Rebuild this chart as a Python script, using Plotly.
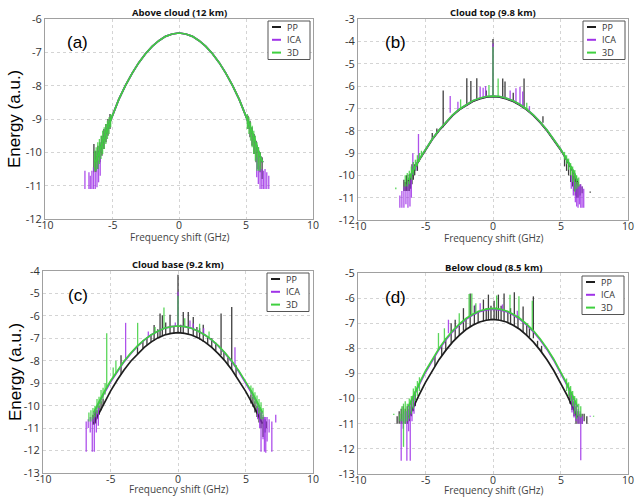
import plotly.graph_objects as go

W, H = 635, 498

# ---------------- data ----------------
FREQ = [-6.25, -6, -5.5, -5, -4.5, -4, -3.5, -3, -2.5, -2, -1.5, -1, -0.5, 0,
        0.5, 1, 1.5, 2, 2.5, 3, 3.5, 4, 4.5, 5, 5.5, 6, 6.25]

SERIES = ["PP", "ICA", "3D"]
COLORS = {"PP": "#1e1e1e", "ICA": "#a033e8", "3D": "#3fd03f"}

TITLES = ["Above cloud (12 km)", "Cloud top (9.8 km)", "Cloud base (9.2 km)", "Below cloud (8.5 km)"]
PANEL_LABELS = ["(a)", "(b)", "(c)", "(d)"]
X_TICKS = [-10, -5, 0, 5, 10]
Y_TICKS_A = [-12, -11, -10, -9, -8, -7, -6]
Y_TICKS_B = [-12, -11, -10, -9, -8, -7, -6, -5, -4, -3]
Y_TICKS_C = [-13, -12, -11, -10, -9, -8, -7, -6, -5, -4]
Y_TICKS_D = [-13, -12, -11, -10, -9, -8, -7, -6, -5]

# smooth spectra (log energy) read at FREQ
base_a = [-10.3, -10.05, -9.45, -8.92, -8.42, -8.0, -7.63, -7.31, -7.04, -6.82, -6.65, -6.52, -6.45, -6.42,
          -6.45, -6.52, -6.65, -6.82, -7.04, -7.31, -7.63, -8.0, -8.42, -8.92, -9.45, -10.05, -10.3]
base_b_pp = [-10.25, -9.9, -9.35, -8.85, -8.4, -8.0, -7.64, -7.33, -7.07, -6.86, -6.69, -6.58, -6.5, -6.48,
             -6.5, -6.58, -6.69, -6.86, -7.07, -7.33, -7.64, -8.0, -8.4, -8.85, -9.35, -9.9, -10.3]
base_b = [-10.2, -9.87, -9.32, -8.82, -8.37, -7.97, -7.61, -7.3, -7.04, -6.83, -6.66, -6.55, -6.47, -6.45,
          -6.47, -6.55, -6.66, -6.83, -7.04, -7.3, -7.61, -7.97, -8.37, -8.82, -9.32, -9.87, -10.25]
base_c_pp = [-10.8, -10.5, -9.9, -9.35, -8.86, -8.41, -8.02, -7.69, -7.4, -7.17, -6.98, -6.85, -6.78, -6.75,
             -6.78, -6.85, -6.98, -7.17, -7.4, -7.69, -8.02, -8.41, -8.86, -9.35, -9.9, -10.5, -10.8]
base_c_ica = [-10.35, -10.05, -9.48, -8.95, -8.48, -8.05, -7.68, -7.35, -7.08, -6.85, -6.68, -6.55, -6.48, -6.45,
              -6.48, -6.55, -6.68, -6.85, -7.08, -7.35, -7.68, -8.05, -8.48, -8.95, -9.48, -10.05, -10.35]
base_c_3d = [-10.3, -10.0, -9.42, -8.9, -8.44, -8.02, -7.66, -7.34, -7.07, -6.85, -6.68, -6.55, -6.48, -6.45,
             -6.48, -6.55, -6.68, -6.85, -7.07, -7.34, -7.66, -8.02, -8.44, -8.9, -9.42, -10.0, -10.3]
base_d_pp = [-10.75, -10.45, -9.88, -9.35, -8.88, -8.45, -8.08, -7.75, -7.48, -7.25, -7.08, -6.95, -6.88, -6.85,
             -6.88, -6.95, -7.08, -7.25, -7.48, -7.75, -8.08, -8.45, -8.88, -9.35, -9.88, -10.45, -10.75]
base_d_ica = [-10.35, -10.05, -9.48, -8.95, -8.47, -8.04, -7.67, -7.34, -7.07, -6.84, -6.67, -6.54, -6.47, -6.44,
              -6.47, -6.54, -6.67, -6.84, -7.07, -7.34, -7.67, -8.04, -8.47, -8.95, -9.48, -10.05, -10.35]
base_d_3d = [-10.3, -10.0, -9.43, -8.9, -8.43, -8.0, -7.63, -7.3, -7.04, -6.81, -6.64, -6.51, -6.44, -6.41,
             -6.44, -6.51, -6.64, -6.81, -7.04, -7.3, -7.63, -8.0, -8.43, -8.9, -9.43, -10.0, -10.3]

# noise spikes: (frequency, low, high)
spk_a_pp = [(-6.35, -10.6, -9.75), (-6.2, -10.6, -9.95), (-6.05, -10.5, -9.8), (-5.9, -10.3, -9.7),
            (-5.75, -10.1, -9.5), (-5.6, -9.9, -9.3), (-5.45, -9.7, -9.15), (-5.3, -9.5, -9.0),
            (-5.15, -9.3, -8.85), (5.15, -9.3, -8.9), (5.3, -9.55, -9.05), (5.45, -9.8, -9.25),
            (5.6, -10.05, -9.45), (5.75, -10.3, -9.65), (5.9, -10.5, -9.85), (6.05, -10.6, -10.0),
            (6.2, -10.8, -10.15)]
spk_a_ica = [(-7.02, -11.1, -10.55), (-6.72, -11.1, -10.6), (-6.62, -11.1, -10.7), (-6.5, -11.1, -10.55),
             (-6.38, -11.1, -10.45), (-6.25, -11.1, -10.6), (-6.12, -11.05, -10.35), (-6.0, -10.9, -10.25),
             (-5.88, -10.7, -10.1), (5.8, -10.75, -10.15), (5.92, -10.95, -10.3), (6.05, -11.1, -10.4),
             (6.18, -11.1, -10.5), (6.3, -11.1, -10.55), (6.42, -11.1, -10.5), (6.55, -11.1, -10.6),
             (6.7, -11.1, -10.7)]
spk_a_3d = [(-6.3, -10.55, -9.95), (-6.18, -10.55, -9.85), (-6.06, -10.5, -9.7), (-5.94, -10.35, -9.6),
            (-5.82, -10.2, -9.5), (-5.7, -10.05, -9.35), (-5.58, -9.9, -9.25), (-5.46, -9.75, -9.15),
            (-5.34, -9.6, -9.05), (-5.22, -9.45, -8.95), (-5.1, -9.25, -8.85), (5.1, -9.3, -8.85),
            (5.22, -9.45, -8.95), (5.34, -9.65, -9.1), (5.46, -9.85, -9.2), (5.58, -10.05, -9.35),
            (5.7, -10.25, -9.5), (5.82, -10.55, -9.7), (5.94, -10.55, -9.85), (6.06, -10.55, -10.0)]

spk_b_pp = [(0, -6.48, -3.9), (-3.69, -7.85, -6.2), (-1.94, -6.85, -5.65), (-1.64, -6.7, -5.78),
            (-1.2, -6.6, -5.65), (-0.5, -6.5, -6.2), (0.72, -6.52, -5.66), (0.89, -6.55, -5.8),
            (1.5, -6.65, -6.3), (2.3, -6.95, -5.66), (3.7, -7.65, -7.35), (-4.5, -8.4, -8.1),
            (-4.16, -8.1, -7.9),
            (-6.6, -10.7, -10.2), (-6.5, -10.7, -10.3), (-6.4, -10.7, -10.0), (-6.3, -10.7, -10.2),
            (-6.2, -10.7, -9.95), (-6.1, -10.6, -10.0), (-6.0, -10.4, -9.5), (-5.9, -10.2, -9.6),
            (-5.8, -10.0, -9.5), (-5.6, -9.8, -9.3),
            (5.3, -9.6, -9.1), (5.45, -9.8, -9.3), (5.6, -10.0, -9.5), (5.75, -10.3, -9.6),
            (5.9, -10.5, -9.8), (6.0, -10.7, -10.0), (6.1, -10.9, -10.1), (6.2, -11.0, -10.2),
            (6.3, -11.0, -10.3), (6.45, -10.9, -10.4), (6.6, -10.8, -10.5), (7.2, -10.78, -10.72)]
spk_b_ica = [(0, -6.45, -4.1), (-3.17, -7.2, -6.45), (-0.95, -6.55, -6.03), (-0.73, -6.5, -6.08),
             (-0.55, -6.48, -6.0), (1.27, -6.6, -6.2), (1.7, -6.75, -6.1), (2.0, -6.83, -6.03),
             (2.2, -6.92, -6.25), (-2.6, -7.1, -6.7), (2.7, -7.2, -6.9),
             (-6.9, -11.45, -10.9), (-6.75, -11.45, -10.7), (-6.6, -11.45, -10.5), (-6.45, -11.3, -10.4),
             (-6.3, -11.45, -10.3), (-6.15, -11.4, -10.2), (-6.05, -11.0, -10.0), (-5.94, -10.0, -9.01),
             (-5.52, -9.4, -8.15), (-5.7, -9.8, -9.4),
             (5.8, -10.6, -10.0), (5.95, -10.9, -10.2), (6.1, -11.2, -10.3), (6.2, -11.4, -10.4),
             (6.3, -11.45, -10.5), (6.4, -11.3, -10.45), (6.5, -11.45, -10.4), (6.6, -11.45, -10.5),
             (6.72, -11.45, -10.6)]
spk_b_3d = [(0, -6.45, -4.25), (0.38, -6.47, -5.66), (-2.4, -7.05, -6.6), (-0.3, -6.47, -5.96),
            (2.5, -7.05, -6.75),
            (-6.5, -10.5, -10.0), (-6.35, -10.5, -9.9), (-6.2, -10.4, -9.8), (-6.05, -10.2, -9.6),
            (-5.9, -10.0, -9.4), (-5.75, -9.8, -9.3), (-5.6, -9.6, -9.1), (-5.45, -9.4, -9.0),
            (-5.3, -9.2, -8.9), (-7.2, -10.62, -10.55),
            (5.3, -9.3, -8.95), (5.45, -9.5, -9.1), (5.6, -9.75, -9.25), (5.75, -10.0, -9.45),
            (5.9, -10.3, -9.6), (6.06, -10.73, -9.76), (6.2, -10.6, -10.0), (6.35, -10.5, -10.1)]

spk_c_pp = [(0, -6.75, -4.17), (-4.22, -8.6, -7.75), (-1.77, -7.1, -6.41), (-1.33, -6.95, -5.89),
            (-1.16, -6.9, -5.97), (-0.91, -6.85, -6.3), (-0.59, -6.8, -5.95), (0.39, -6.77, -5.83),
            (0.76, -6.82, -5.83), (1.13, -6.87, -6.05), (1.87, -7.15, -6.4), (3.19, -7.75, -5.89),
            (3.98, -8.4, -5.6),
            (-3.0, -7.7, -7.35), (-2.6, -7.45, -7.1), (-2.3, -7.3, -6.95), (-2.0, -7.17, -6.85),
            (-1.5, -7.0, -6.6), (-0.3, -6.77, -6.45), (0.2, -6.76, -6.4), (1.4, -6.95, -6.5),
            (1.6, -7.05, -6.55), (2.2, -7.25, -6.9), (2.5, -7.4, -7.0), (2.8, -7.55, -7.2),
            (3.4, -7.95, -7.6), (3.7, -8.2, -7.85), (4.3, -8.7, -8.2),
            (-6.3, -10.85, -10.4), (-6.2, -10.85, -10.3), (-6.1, -10.8, -10.2), (-6.0, -10.6, -10.2),
            (-5.85, -10.4, -10.0), (-5.7, -10.2, -9.8), (-5.55, -10.0, -9.7),
            (5.4, -9.9, -9.5), (5.55, -10.05, -9.6), (5.7, -10.3, -9.8), (5.85, -10.5, -10.0),
            (6.0, -10.75, -10.1), (6.15, -11.0, -10.3), (6.3, -11.4, -10.5), (6.45, -11.2, -10.6),
            (6.55, -11.0, -10.7)]
spk_c_ica = [(0, -6.45, -4.93), (-3.88, -7.98, -6.31), (-0.2, -6.46, -6.3), (0.89, -6.52, -6.2),
             (1.13, -6.6, -6.34), (4.22, -8.25, -7.4), (-2.2, -6.95, -6.7), (1.9, -6.8, -6.55),
             (-6.8, -12.05, -10.7), (-6.65, -11.0, -10.6), (-6.5, -11.2, -10.5), (-6.35, -12.05, -10.5),
             (-6.2, -12.05, -10.4), (-6.05, -11.2, -10.2), (-5.9, -10.9, -10.1),
             (5.9, -10.6, -10.0), (6.05, -11.0, -10.2), (6.15, -12.05, -10.3), (6.3, -11.5, -10.4),
             (6.4, -12.05, -10.5), (6.5, -12.1, -10.5), (6.6, -11.6, -10.5), (6.75, -11.2, -10.6),
             (6.95, -12.05, -10.7), (7.24, -10.75, -10.4)]
spk_c_3d = [(0, -6.45, -5.1), (-5.28, -9.2, -6.77), (-2.99, -7.35, -6.31), (-1.04, -6.55, -5.63),
            (0.5, -6.48, -6.1), (-1.7, -6.75, -6.5), (-4.6, -8.55, -8.0), (-4.8, -8.75, -8.3),
            (1.6, -6.7, -6.35), (2.3, -6.95, -6.7),
            (-6.6, -10.7, -10.3), (-6.45, -10.7, -10.2), (-6.3, -10.6, -10.1), (-6.15, -10.5, -10.0),
            (-6.0, -10.35, -9.7), (-5.85, -10.1, -9.6), (-5.7, -9.9, -9.3), (-5.55, -9.7, -9.2),
            (-5.4, -9.5, -9.0),
            (5.4, -9.5, -9.1), (5.55, -9.7, -9.2), (5.7, -9.9, -9.4), (5.85, -10.1, -9.55),
            (6.0, -10.35, -9.7), (6.15, -10.6, -9.85), (6.3, -10.6, -10.1)]

spk_d_pp = [(-3.1, -7.8, -7.0), (-2.8, -7.65, -6.86), (-2.19, -7.3, -6.4), (-1.69, -7.15, -5.82),
            (-1.38, -7.05, -6.3), (-0.71, -6.92, -6.06), (-0.34, -6.87, -5.86), (0.08, -6.85, -6.1),
            (0.4, -6.87, -5.86), (0.82, -6.92, -5.82), (1.58, -7.1, -5.77), (2.23, -7.35, -6.33),
            (2.99, -7.6, -5.93),
            (-4.3, -8.7, -8.3), (-3.8, -8.3, -7.9), (-3.5, -8.08, -7.6), (-2.5, -7.48, -7.1),
            (-2.0, -7.25, -6.8), (-1.1, -6.97, -6.5), (-0.5, -6.88, -6.4), (-0.15, -6.86, -6.3),
            (0.25, -6.86, -6.35), (0.6, -6.9, -6.3), (1.1, -6.97, -6.5), (1.3, -7.03, -6.4),
            (1.85, -7.2, -6.7), (2.5, -7.48, -7.0), (2.7, -7.55, -7.2), (3.3, -7.95, -7.7),
            (3.6, -8.15, -7.9),
            (-7.1, -11.0, -10.7), (-6.95, -11.0, -10.5), (-6.8, -11.0, -10.4), (-6.65, -11.0, -10.3),
            (-6.5, -11.0, -10.4), (-6.35, -11.0, -10.3), (-6.2, -10.9, -10.2), (-6.05, -10.7, -10.1),
            (-5.9, -10.5, -9.9), (-5.75, -10.3, -9.7),
            (5.7, -10.2, -9.7), (5.85, -10.45, -9.9), (6.0, -10.7, -10.1), (6.15, -11.0, -10.3),
            (6.3, -11.0, -10.5), (6.45, -11.0, -10.6), (6.6, -11.0, -10.6), (6.75, -10.9, -10.6),
            (6.95, -11.0, -10.7)]
spk_d_ica = [(-3.3, -7.4, -6.86), (-1.32, -6.65, -6.26), (-0.95, -6.55, -6.2), (0.7, -6.5, -6.25),
             (1.8, -6.8, -6.5),
             (-6.8, -12.47, -10.8), (-6.65, -11.2, -10.6), (-6.5, -11.0, -10.5), (-6.38, -12.47, -10.5),
             (-6.25, -11.3, -10.4), (-6.13, -12.47, -10.3), (-6.0, -10.9, -10.1), (-5.85, -10.6, -9.9),
             (5.85, -10.55, -9.95), (6.0, -10.75, -10.1), (6.15, -10.9, -10.2), (6.3, -11.0, -10.4),
             (6.45, -11.0, -10.5), (6.5, -12.45, -10.7), (6.62, -11.0, -10.7), (7.2, -10.72, -10.68)]
spk_d_3d = [(-4.04, -8.1, -7.39), (-1.77, -6.75, -5.84), (-1.57, -6.68, -5.82), (-1.27, -6.6, -6.2),
            (0.27, -6.42, -5.9), (1.26, -6.6, -5.87), (1.92, -6.8, -5.93), (2.91, -7.3, -6.1),
            (-2.5, -7.05, -6.6), (-3.6, -7.7, -7.2),
            (-6.9, -10.9, -10.6), (-6.75, -10.9, -10.3), (-6.63, -11.92, -10.2), (-6.5, -11.0, -10.1),
            (-6.35, -10.9, -10.2), (-6.2, -10.8, -10.0), (-6.05, -10.6, -9.9), (-5.9, -10.4, -9.6),
            (-5.75, -10.1, -9.5), (-5.6, -9.9, -9.3), (-5.45, -9.7, -9.15), (-7.35, -10.65, -10.6),
            (5.45, -9.7, -9.2), (5.6, -9.9, -9.35), (5.75, -10.1, -9.5), (5.9, -10.3, -9.7),
            (6.05, -10.6, -9.9), (6.2, -10.8, -10.0), (6.35, -10.7, -10.2), (6.5, -10.75, -10.3),
            (7.45, -10.72, -10.68)]

# ---------------- layout (pixel boxes) ----------------
PANELS = [
    dict(box=(45, 19, 313, 219), yr=(-12, -6), yt=Y_TICKS_A,
         base={"PP": base_a, "ICA": base_a, "3D": base_a},
         spk={"PP": spk_a_pp, "ICA": spk_a_ica, "3D": spk_a_3d},
         title_y=13, xt_y=237, lab=(77, 43), leg=(268, 21), ylab=True),
    dict(box=(358, 19, 628, 220), yr=(-12, -3), yt=Y_TICKS_B,
         base={"PP": base_b_pp, "ICA": base_b, "3D": base_b},
         spk={"PP": spk_b_pp, "ICA": spk_b_ica, "3D": spk_b_3d},
         title_y=13, xt_y=238, lab=(395, 43), leg=(583, 21), ylab=False),
    dict(box=(43, 271, 313, 473), yr=(-13, -4), yt=Y_TICKS_C,
         base={"PP": base_c_pp, "ICA": base_c_ica, "3D": base_c_3d},
         spk={"PP": spk_c_pp, "ICA": spk_c_ica, "3D": spk_c_3d},
         title_y=264, xt_y=489, lab=(78, 295), leg=(267, 273), ylab=True),
    dict(box=(358, 273, 628, 474), yr=(-13, -5), yt=Y_TICKS_D,
         base={"PP": base_d_pp, "ICA": base_d_ica, "3D": base_d_3d},
         spk={"PP": spk_d_pp, "ICA": spk_d_ica, "3D": spk_d_3d},
         title_y=267, xt_y=490, lab=(395, 297), leg=(582, 276), ylab=False),
]

FONT = "Open Sans, Arial, sans-serif"


def px(x):
    return x / W


def py(y):
    return 1 - y / H


def segs(spikes):
    xs, ys = [], []
    for x, lo, hi in spikes:
        xs += [x, x, None]
        ys += [lo, hi, None]
    return xs, ys


fig = go.Figure()
annotations, shapes = [], []
layout_axes = {}

for i, p in enumerate(PANELS):
    n = "" if i == 0 else str(i + 1)
    xa, ya = "x" + n, "y" + n
    x0, y0, x1, y1 = p["box"]
    layout_axes["xaxis" + n] = dict(
        domain=[px(x0), px(x1)], range=[-10, 10], anchor=ya,
        tickvals=X_TICKS, showticklabels=False,
        showgrid=True, gridcolor="#d4d4d4", griddash="dot", gridwidth=1,
        showline=True, mirror=True, linecolor="#a0a0a0", linewidth=1,
        zeroline=False, ticks="", automargin=False)
    layout_axes["yaxis" + n] = dict(
        domain=[py(y1), py(y0)], range=list(p["yr"]), anchor=xa,
        tickvals=p["yt"], ticktext=[str(v) for v in p["yt"]],
        showgrid=True, gridcolor="#d4d4d4", griddash="dot", gridwidth=1,
        showline=True, mirror=True, linecolor="#a0a0a0", linewidth=1,
        zeroline=False, ticks="", automargin=False,
        tickfont=dict(family=FONT, size=11, color="#333"))

    # x tick labels placed on the data axis, just under the frame
    for v in X_TICKS:
        annotations.append(dict(x=v, xref=xa, y=py(y1 + 5.5), yref="paper", text=str(v),
                                showarrow=False, xanchor="center", yanchor="middle", borderpad=0,
                                font=dict(family=FONT, size=10.5, color="#333")))

    for s in SERIES:
        c = COLORS[s]
        fig.add_trace(go.Scatter(x=FREQ, y=p["base"][s], mode="lines", xaxis=xa, yaxis=ya,
                                 line=dict(color=c, width=1.7), showlegend=False, hoverinfo="skip"))
        sx, sy = segs(p["spk"][s])
        fig.add_trace(go.Scatter(x=sx, y=sy, mode="lines", xaxis=xa, yaxis=ya, opacity=0.85,
                                 line=dict(color=c, width=1.3), showlegend=False, hoverinfo="skip"))

    cx = (x0 + x1) / 2
    annotations.append(dict(x=px(cx), y=py(p["title_y"]), xref="paper", yref="paper",
                            text="<b>" + TITLES[i] + "</b>", showarrow=False,
                            font=dict(family=FONT, size=9.5, color="#111"),
                            xanchor="center", yanchor="middle"))
    annotations.append(dict(x=px(cx), y=py(p["xt_y"]), xref="paper", yref="paper",
                            text="Frequency shift (GHz)", showarrow=False, borderpad=0,
                            font=dict(family=FONT, size=10, color="#444"),
                            xanchor="center", yanchor="middle"))
    annotations.append(dict(x=px(p["lab"][0]), y=py(p["lab"][1]), xref="paper", yref="paper",
                            text=PANEL_LABELS[i], showarrow=False,
                            font=dict(family="Liberation Sans, Arial", size=17, color="#000"),
                            xanchor="center", yanchor="middle"))
    if p["ylab"]:
        annotations.append(dict(x=px(15), y=py((y0 + y1) / 2), xref="paper", yref="paper",
                                text="Energy (a.u.)", showarrow=False, textangle=-90,
                                font=dict(family="Liberation Sans, Arial", size=17, color="#000"),
                                xanchor="center", yanchor="middle"))

    # legend box
    lx, ly = p["leg"]
    shapes.append(dict(type="rect", xref="paper", yref="paper",
                       x0=px(lx), x1=px(lx + 42), y0=py(ly), y1=py(ly + 38.5),
                       line=dict(color="#555", width=1), fillcolor="white"))
    for k, s in enumerate(SERIES):
        yy = ly + 6 + 12.8 * k
        shapes.append(dict(type="line", xref="paper", yref="paper",
                           x0=px(lx + 4), x1=px(lx + 13), y0=py(yy), y1=py(yy),
                           line=dict(color=COLORS[s], width=2)))
        annotations.append(dict(x=px(lx + 17), y=py(yy), xref="paper", yref="paper",
                                text=s, showarrow=False, xanchor="left", yanchor="middle",
                                font=dict(family=FONT, size=9, color="#333")))

fig.update_layout(
    width=W, height=H, margin=dict(l=0, r=0, t=0, b=0),
    paper_bgcolor="white", plot_bgcolor="white", showlegend=False,
    annotations=annotations, shapes=shapes, **layout_axes)

fig.write_html("out.html", config={"displayModeBar": False},
               post_script="document.body.style.margin='0px';document.body.style.overflow='hidden';")
